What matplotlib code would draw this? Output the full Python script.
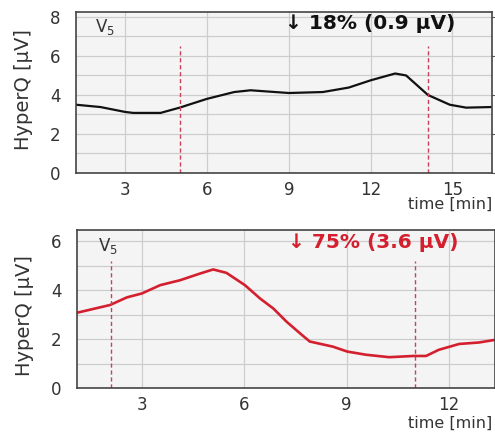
import matplotlib.pyplot as plt
from matplotlib.ticker import MultipleLocator

plt.rcParams.update({
    "font.family": ["DejaVu Sans"],
    "mathtext.default": "regular",
})

# top panel (black trace)
top_t = [1.2, 2.1, 3.0, 3.3, 4.3, 5.0, 6.0, 7.0, 7.6, 9.0, 10.25, 11.2, 12.0, 12.9, 13.3, 14.1, 14.9, 15.5, 16.4]
top_v = [3.5, 3.38, 3.13, 3.08, 3.08, 3.35, 3.8, 4.15, 4.24, 4.1, 4.15, 4.38, 4.75, 5.1, 5.0, 4.0, 3.5, 3.35, 3.38]
top_marks = [5.0, 14.1]
top_note = "↓ 18% (0.9 µV)"

# bottom panel (red trace)
bot_t = [1.12, 2.07, 2.56, 3.0, 3.54, 4.12, 4.7, 5.09, 5.48, 6.02, 6.46, 6.85, 7.24, 7.63,
         7.92, 8.6, 9.02, 9.57, 10.25, 10.96, 11.33, 11.7, 12.3, 12.88, 13.32]
bot_v = [3.08, 3.39, 3.7, 3.86, 4.2, 4.4, 4.67, 4.84, 4.7, 4.2, 3.66, 3.25, 2.71, 2.24,
         1.9, 1.69, 1.49, 1.36, 1.26, 1.31, 1.31, 1.56, 1.8, 1.86, 1.96]
bot_marks = [2.1, 11.0]
bot_note = "↓ 75% (3.6 µV)"

BG = "#f4f4f4"
GRID = "#cdcdcd"
TXT = "#333333"
RED = "#d41f2f"
MARK = "#c8405a"

fig = plt.figure(figsize=(4.95, 4.41), dpi=100)
ax1 = fig.add_axes([0.1535, 0.6077, 0.8405, 0.365])
ax2 = fig.add_axes([0.1556, 0.120, 0.8444, 0.3585])


def style(ax, xlim, ylim, xstep, xpad, label_y):
    ax.set_facecolor(BG)
    ax.set_xlim(*xlim)
    ax.set_ylim(*ylim)
    ax.xaxis.set_major_locator(MultipleLocator(xstep))
    ax.yaxis.set_major_locator(MultipleLocator(2))
    ax.yaxis.set_minor_locator(MultipleLocator(1))
    ax.grid(True, which="major", axis="x", color=GRID, lw=0.9)
    ax.grid(True, which="both", axis="y", color=GRID, lw=0.9)
    ax.set_axisbelow(True)
    ax.tick_params(axis="y", which="major", left=False, right=True, labelleft=True,
                   direction="out", length=3, color="#555555", labelsize=12, labelcolor=TXT, pad=8)
    ax.tick_params(axis="y", which="minor", left=False, right=False)
    ax.tick_params(axis="x", bottom=False, labelsize=12, labelcolor=TXT, pad=xpad)
    for sp in ax.spines.values():
        sp.set_color("#444444")
        sp.set_linewidth(1.2)
    ax.set_ylabel("HyperQ [µV]", fontsize=14, color=TXT)
    ax.yaxis.set_label_coords(-0.103, label_y)


style(ax1, (1.2, 16.45), (0, 8.25), 3, 2, 0.52)
style(ax2, (1.1, 13.35), (0, 6.45), 3, 2.5, 0.46)

ax1.plot(top_t, top_v, color="#111111", lw=1.6)
ax1.vlines(top_marks, 0, 6.5, colors=MARK, linestyles=(0, (3, 2)), lw=1.0)
ax1.text(0.707, 0.93, top_note, transform=ax1.transAxes, ha="center", va="center",
         fontsize=14.5, fontweight="bold", color="#111111")
ax1.text(0.045, 0.91, "V$_5$", transform=ax1.transAxes, ha="left", va="center",
         fontsize=12, color=TXT)
ax1.text(1.0, -0.195, "time [min]", transform=ax1.transAxes, ha="right", va="center",
         fontsize=11.5, color=TXT)

ax2.plot(bot_t, bot_v, color=RED, lw=1.9)
ax2.vlines(bot_marks, 0, 5.2, colors=MARK, linestyles=(0, (3, 2)), lw=1.0)
ax2.text(0.708, 0.918, bot_note, transform=ax2.transAxes, ha="center", va="center",
         fontsize=14.5, fontweight="bold", color=RED)
ax2.text(0.05, 0.9, "V$_5$", transform=ax2.transAxes, ha="left", va="center",
         fontsize=12, color=TXT)
ax2.text(0.993, -0.222, "time [min]", transform=ax2.transAxes, ha="right", va="center",
         fontsize=11.5, color=TXT)

fig.savefig("out.png", dpi=100)
